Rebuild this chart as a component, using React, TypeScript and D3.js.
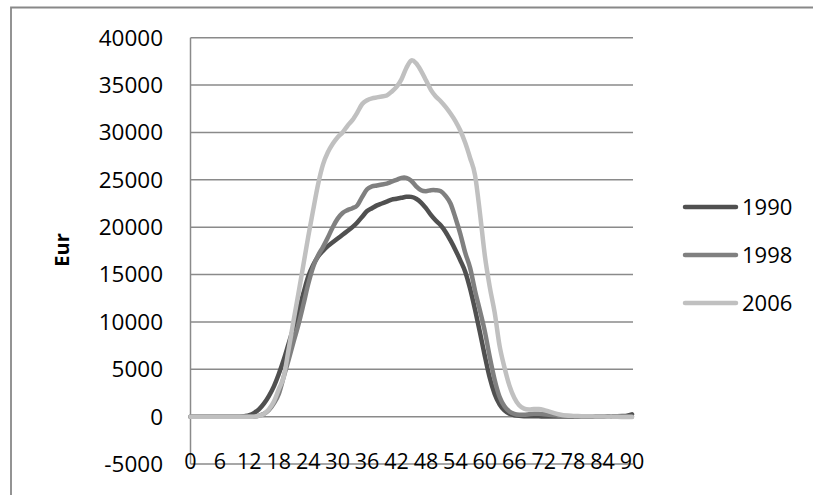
import React from "react";
import * as d3 from "d3";

const ages: number[] = Array.from({ length: 91 }, (_, i) => i);
const tickLabels: number[] = [0, 6, 12, 18, 24, 30, 36, 42, 48, 54, 60, 66, 72, 78, 84, 90];
const yTicks: number[] = [40000, 35000, 30000, 25000, 20000, 15000, 10000, 5000, 0, -5000];
const seriesNames: string[] = ["1990", "1998", "2006"];
const seriesColors: string[] = ["#505050", "#808080", "#c0c0c0"];

const v1990: number[] = [
  0, 0, 0, 0, 0, 0, 0, 0, 0, 0,
  0, 50, 150, 400, 800, 1400, 2200, 3200, 4500, 6000,
  7700, 9400, 11100, 13000, 14800, 16000, 16900, 17500, 18000, 18400,
  18800, 19200, 19600, 20000, 20500, 21100, 21700, 22000, 22300, 22500,
  22700, 22900, 23000, 23100, 23200, 23200, 23000, 22600, 22000, 21300,
  20700, 20200, 19500, 18600, 17600, 16500, 15300, 13500, 11300, 8900,
  6400, 4100, 2400, 1300, 650, 300, 150, 80, 50, 40,
  30, 30, 20, 20, 20, 20, 20, 20, 20, 20,
  20, 20, 20, 20, 20, 30, 30, 40, 60, 100,
  250,
];

const v1998: number[] = [
  0, 0, 0, 0, 0, 0, 0, 0, 0, 0,
  0, 0, 0, 0, 100, 300, 700, 1400, 2400, 4200,
  6000, 7900, 9700, 11800, 14000, 15800, 17000, 17900, 18900, 20000,
  20900, 21500, 21800, 22000, 22300, 23200, 24000, 24300, 24400, 24500,
  24600, 24800, 25000, 25200, 25200, 24900, 24300, 23900, 23800, 23900,
  23900, 23800, 23300, 22500, 21000, 19300, 17300, 15700, 13300, 11200,
  9000, 6300, 3900, 2100, 1100, 550, 300, 200, 200, 250,
  300, 300, 250, 200, 150, 100, 80, 60, 50, 40,
  30, 30, 30, 20, 20, 20, 20, 20, 20, 20,
  20,
];

const v2006: number[] = [
  0, 0, 0, 0, 0, 0, 0, 0, 0, 0,
  0, 0, 0, 0, 100, 300, 800, 1600, 2900, 4200,
  7100, 10100, 13000, 16000, 19000, 21800, 24500, 26600, 27900, 28800,
  29500, 30000, 30700, 31300, 32100, 33000, 33400, 33600, 33700, 33800,
  33900, 34300, 34800, 35600, 36800, 37600, 37300, 36500, 35500, 34500,
  33800, 33300, 32700, 32000, 31200, 30200, 28900, 27300, 25500, 21500,
  17000, 13700, 11000, 7500, 5200, 3300, 2000, 1200, 850, 750,
  800, 800, 700, 550, 400, 250, 150, 100, 80, 60,
  50, 40, 30, 20, 10, 0, 0, -20, -30, -40,
  -50,
];

const allSeries: number[][] = [v1990, v1998, v2006];

export default function App() {
  const W = 813;
  const H = 495;
  const plotLeft = 190.5;
  const plotRight = 633;
  const x = d3.scaleLinear().domain([0, 90]).range([plotLeft, 632]);
  const y = d3.scaleLinear().domain([-5000, 40000]).range([464, 37.7]);
  const font = "'Open Sans', 'Liberation Sans', sans-serif";
  const line = d3
    .line<number>()
    .x((_, i) => x(ages[i]))
    .y((d) => y(d))
    .curve(d3.curveCatmullRom.alpha(0));

  return (
    <svg
      width={W}
      height={H}
      style={{ position: "absolute", left: 0, top: 0, display: "block", background: "#fff" }}
    >
      {/* outer chart frame */}
      <path d={`M11,${H + 5} L11,7.5 L${W + 5},7.5`} fill="none" stroke="#888" strokeWidth={1.8} />

      {/* gridlines */}
      {yTicks
        .filter((t) => t > -5000)
        .map((t) => (
          <line key={t} x1={plotLeft} x2={plotRight} y1={y(t)} y2={y(t)} stroke="#8a8a8a" strokeWidth={1.5} />
        ))}
      {/* axes */}
      <line x1={plotLeft} x2={plotLeft} y1={y(40000)} y2={y(-5000)} stroke="#8a8a8a" strokeWidth={1.5} />
      <line x1={plotLeft} x2={plotRight} y1={y(-5000)} y2={y(-5000)} stroke="#8a8a8a" strokeWidth={1.5} />

      {/* y tick labels */}
      {yTicks.map((t) => (
        <text
          key={t}
          x={163}
          y={y(t)}
          dy="0.35em"
          textAnchor="end"
          fontFamily={font}
          fontSize={22.5}
          fill="#000"
        >
          {t}
        </text>
      ))}

      {/* x tick labels */}
      {tickLabels.map((t) => (
        <text
          key={t}
          x={x(t)}
          y={461}
          dy="0.35em"
          textAnchor="middle"
          fontFamily={font}
          fontSize={21.5}
          fill="#000"
        >
          {t}
        </text>
      ))}

      {/* axis title */}
      <text
        transform={`translate(62,250) rotate(-90)`}
        textAnchor="middle"
        dy="0.35em"
        fontFamily={font}
        fontWeight="bold"
        fontSize={20}
        fill="#000"
      >
        Eur
      </text>

      {/* series lines */}
      {allSeries.map((s, k) => (
        <path
          key={seriesNames[k]}
          d={line(s) || ""}
          fill="none"
          stroke={seriesColors[k]}
          strokeWidth={4.5}
          strokeLinecap="round"
          strokeLinejoin="round"
        />
      ))}

      {/* legend */}
      {seriesNames.map((n, k) => {
        const ly = 207 + k * 48;
        return (
          <g key={n}>
            <line x1={685} x2={736} y1={ly} y2={ly} stroke={seriesColors[k]} strokeWidth={4.5} strokeLinecap="round" />
            <text x={742} y={ly} dy="0.35em" fontFamily={font} fontSize={22} fill="#000">
              {n}
            </text>
          </g>
        );
      })}
    </svg>
  );
}
